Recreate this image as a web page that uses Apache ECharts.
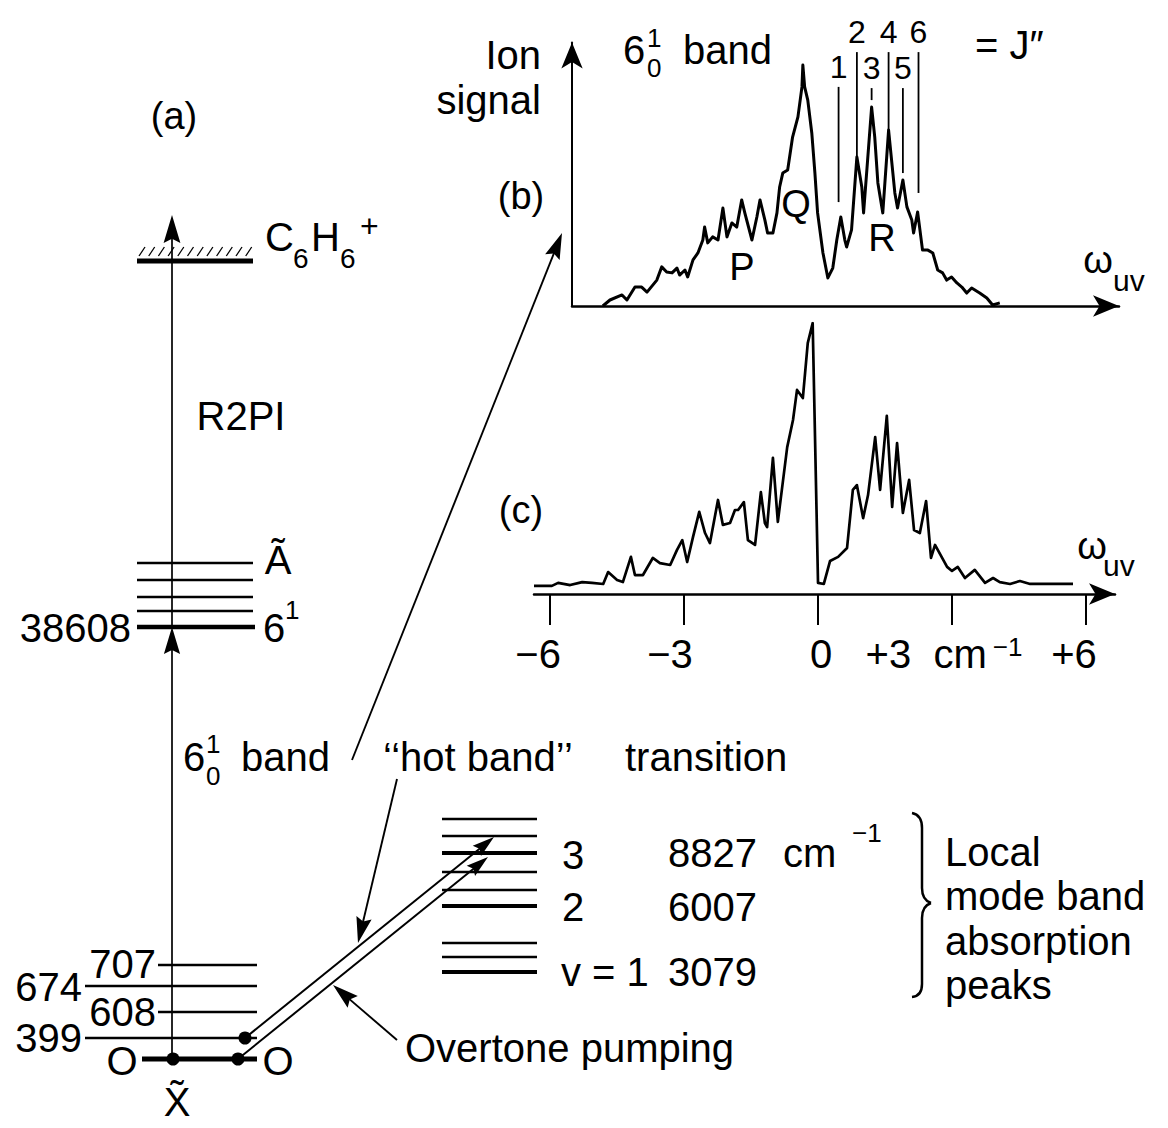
<!DOCTYPE html>
<html>
<head>
<meta charset="utf-8">
<script src="https://cdn.jsdelivr.net/npm/echarts@6/dist/echarts.min.js"></script>
<style>
html, body { margin: 0; padding: 0; background: #fff; }
#chart { width: 1168px; height: 1128px; }
</style>
</head>
<body>
<div id="chart"></div>
<script>
// (b) 6_0^1 band, ion signal; x in cm-1 from the Q branch, y arbitrary
const bX = [-4.59,-4.43,-4.16,-4.05,-3.87,-3.72,-3.60,-3.38,-3.27,-3.16,-3.04,-2.93,-2.87,-2.75,-2.69,-2.57,-2.46,-2.35,-2.31,-2.24,-2.13,-2.01,-1.90,-1.81,-1.70,-1.59,-1.48,-1.41,-1.25,-1.14,-1.07,-0.96,-0.90,-0.78,-0.69,-0.63,-0.56,-0.45,-0.34,-0.22,-0.13,-0.11,-0.07,0.00,0.09,0.16,0.22,0.34,0.45,0.56,0.65,0.74,0.83,0.87,0.98,1.10,1.21,1.25,1.34,1.43,1.50,1.57,1.68,1.81,1.95,2.01,2.13,2.22,2.33,2.37,2.46,2.57,2.69,2.80,2.91,3.02,3.11,3.22,3.34,3.45,3.56,3.67,3.85,4.01,4.14,4.30];
const bY = [0,2.5,4.6,2.5,7.9,7.9,5.8,10.8,16.3,14.2,13.8,15.8,12.9,15.0,12.1,19.2,22.1,27.5,32.9,26.3,28.8,27.5,40.8,28.8,34.6,32.9,44.2,38.8,27.5,37.1,44.2,35.8,30.4,30.4,38.8,49.6,55.4,56.7,70.4,78.8,91.3,100.4,91.3,85.8,72.1,55.4,38.8,22.1,11.7,15.8,27.5,37.1,27.5,24.6,31.7,62.1,49.6,38.8,60.8,82.9,70.4,51.3,38.8,73.3,47.1,40.8,52.5,41.3,35.8,30.4,39.2,23.3,23.3,22.1,15.0,13.8,10.8,12.1,9.6,7.9,5.4,7.5,5.4,3.3,0.4,1.3];

// R-branch markers, J'' = 1..6
const jNum = [1, 2, 3, 4, 5, 6];
const jX = [0.69, 1.10, 1.43, 1.81, 2.13, 2.48];
const jTop = [91.3, 105.8, 90.8, 105.8, 90.8, 105.8];
const jBottom = [43.3, 62.1, 85.8, 73.3, 55.4, 47.1];

// (c) hot band spectrum; x in cm-1
const cX = [-6.36,-5.96,-5.82,-5.55,-5.28,-5.06,-4.81,-4.70,-4.50,-4.37,-4.19,-4.10,-3.92,-3.70,-3.54,-3.31,-3.16,-3.04,-2.93,-2.80,-2.66,-2.53,-2.42,-2.24,-2.13,-1.97,-1.86,-1.79,-1.66,-1.57,-1.41,-1.28,-1.19,-1.14,-1.01,-0.90,-0.69,-0.56,-0.47,-0.34,-0.23,-0.12,0.00,0.13,0.27,0.45,0.65,0.78,0.87,1.01,1.12,1.28,1.39,1.54,1.66,1.77,1.90,2.04,2.15,2.28,2.42,2.53,2.62,2.89,3.00,3.13,3.29,3.51,3.74,3.92,4.07,4.30,4.52,4.75,5.13,5.71];
const cY = [3.0,3.0,4.1,3.3,4.4,4.1,3.7,8.1,5.2,4.4,13.7,7.0,7.0,13.3,11.4,10.7,16.2,19.9,11.8,21.0,30.3,22.5,18.8,34.7,25.5,26.2,31.0,31.0,33.9,19.9,18.1,37.6,26.2,24.7,50.2,26.6,54.2,64.2,75.3,72.3,92.6,100,4.1,3.7,12.2,13.7,17.0,38.4,40.2,28.0,36.5,57.9,38.4,65.7,32.1,55.7,29.9,42.1,23.6,22.5,34.3,13.3,18.1,10.0,8.5,10.0,5.9,8.9,4.1,5.9,4.4,3.7,4.8,3.7,3.7,3.7];
const cTicks = [-6, -3, 0, 3, 6];
const cTickLabels = ['{m|−6}', '{m3|−3}', '{z|0}', '{p3|+3  cm}{s|−1}', '{m|+6}'];

const FONT = '"Liberation Sans", Arial, Helvetica, sans-serif';

// energy level diagram, drawn on a page-sized hidden grid: [x1, y1, x2, y2, width, arrowhead]
const segments = [
  [137, 261, 253, 261, 5, 0],
  [137, 563, 253, 563, 2.5, 0], [137, 580, 253, 580, 2.5, 0], [137, 597, 253, 597, 2.5, 0],
  [137, 611, 253, 611, 2.5, 0], [137, 627, 255, 627, 4.5, 0],
  [158, 965, 257, 965, 2.5, 0], [85, 986, 257, 986, 2.5, 0], [158, 1012, 257, 1012, 2.5, 0],
  [85, 1038, 257, 1038, 2.5, 0], [142, 1059, 257, 1059, 5, 0],
  [442, 819, 537, 819, 2.5, 0], [442, 836, 537, 836, 2.5, 0], [442, 853, 537, 853, 4, 0],
  [442, 872, 537, 872, 2.5, 0], [442, 890, 537, 890, 2.5, 0], [442, 906, 537, 906, 4, 0],
  [442, 943, 537, 943, 2.5, 0], [442, 957, 537, 957, 2.5, 0], [442, 972, 537, 972, 4, 0],
  [172, 1059, 172, 627, 1.7, 27], [172, 627, 172, 215, 1.7, 28],
  [352, 760, 562, 233, 1.9, 26], [397, 779, 358, 943, 1.9, 26], [397, 1040, 333, 985, 1.9, 26],
  [245, 1038, 494, 837, 2, 22], [238, 1059, 488, 857, 2, 22]
];
// hatching above the ionisation limit
for (let i = 0; i < 12; i++) {
  const x = 139 + i * 9.7;
  segments.push([x, 256, x + 6, 247, 1.3, 0]);
}
const dots = [[173, 1059], [238, 1059], [245, 1038]];

const texts = [
  ['(a)', 174, 116, 38, 'center'],
  ['C', 265, 237, 40, 'left'], ['6', 293, 258, 28, 'left'], ['H', 311, 237, 40, 'left'],
  ['6', 340, 258, 28, 'left'], ['+', 360, 226, 32, 'left'],
  ['R2PI', 241, 416, 40, 'center'],
  ['Ã', 278, 560, 40, 'center'],
  ['6', 263, 628, 40, 'left'], ['1', 285, 610, 26, 'left'],
  ['38608', 131, 628, 40, 'right'],
  ['707', 156, 964, 40, 'right'], ['674', 82, 987, 40, 'right'],
  ['608', 156, 1012, 40, 'right'], ['399', 82, 1038, 40, 'right'],
  ['O', 122, 1061, 40, 'center'], ['O', 278, 1061, 40, 'center'],
  ['X̃', 177, 1102, 40, 'center'],
  ['6', 183, 757, 40, 'left'], ['1', 206, 744, 26, 'left'], ['0', 206, 776, 26, 'left'],
  ['band', 241, 757, 40, 'left'],
  ['‘‘hot band’’', 383, 757, 40, 'left'], ['transition', 625, 757, 40, 'left'],
  ['Overtone pumping', 405, 1048, 40, 'left'],
  ['3', 573, 855, 40, 'center'], ['2', 573, 907, 40, 'center'], ['v = 1', 561, 972, 40, 'left'],
  ['8827', 668, 853, 40, 'left'], ['cm', 783, 853, 40, 'left'], ['−1', 852, 833, 26, 'left'],
  ['6007', 668, 907, 40, 'left'], ['3079', 668, 972, 40, 'left'],
  ['Local', 945, 852, 40, 'left'], ['mode band', 945, 896, 40, 'left'],
  ['absorption', 945, 941, 40, 'left'], ['peaks', 945, 985, 40, 'left'],
  ['Ion', 541, 55, 40, 'right'], ['signal', 541, 100, 40, 'right'],
  ['(b)', 521, 196, 38, 'center'], ['(c)', 521, 510, 38, 'center'],
  ['6', 623, 50, 40, 'left'], ['1', 647, 38, 26, 'left'], ['0', 647, 68, 26, 'left'],
  ['band', 683, 50, 40, 'left'],
  ['= J″', 975, 45, 40, 'left'],
  ['ω', 1098, 260, 38, 'center'], ['uv', 1113, 280, 30, 'left'],
  ['ω', 1092, 546, 38, 'center'], ['uv', 1103, 565, 30, 'left'],
  ['P', 742, 267, 38, 'center'], ['Q', 796, 204, 38, 'center'], ['R', 882, 238, 38, 'center']
];

// curly brace next to the local mode levels: [x1, y1, x2, y2, cpx, cpy]
const brace = [
  [912, 813, 922, 828, 922, 815],
  [922, 828, 922, 888, 922, 858],
  [922, 888, 931, 903, 922, 900],
  [931, 903, 922, 918, 922, 906],
  [922, 918, 922, 984, 922, 951],
  [922, 984, 912, 997, 922, 996]
];

function renderSeg(params, api) {
  const a = api.coord([api.value(0), api.value(1)]);
  const b = api.coord([api.value(2), api.value(3)]);
  const w = api.value(4);
  const h = api.value(5);
  const children = [];
  let end = b;
  if (h > 0) {
    const dx = b[0] - a[0], dy = b[1] - a[1];
    const len = Math.hypot(dx, dy);
    const ux = dx / len, uy = dy / len;
    const bx = b[0] - ux * h, by = b[1] - uy * h, hw = h * 0.3;
    end = [b[0] - ux * h * 0.7, b[1] - uy * h * 0.7];
    children.push({
      type: 'polygon',
      shape: { points: [b, [bx - uy * hw, by + ux * hw], [b[0] - ux * h * 0.85, b[1] - uy * h * 0.85], [bx + uy * hw, by - ux * hw]] },
      style: { fill: '#000' }
    });
  }
  children.push({
    type: 'line',
    shape: { x1: a[0], y1: a[1], x2: end[0], y2: end[1] },
    style: { stroke: '#000', lineWidth: w, fill: null }
  });
  return { type: 'group', children: children };
}

const chart = echarts.init(document.getElementById('chart'), null, { renderer: 'svg' });

const hidden = { show: false };
const option = {
  animation: false,
  backgroundColor: '#fff',
  grid: [
    { left: 572, top: 42.5, width: 547, height: 263.5 },
    { left: 534, top: 323, width: 581, height: 271 },
    { left: 0, top: 0, width: 1168, height: 1128 }
  ],
  xAxis: [
    {
      gridIndex: 0, type: 'value', min: -5.28, max: 6.97,
      axisLine: { show: true, onZero: false, symbol: ['none', 'arrow'], symbolSize: [16, 26], lineStyle: { color: '#000', width: 2.5 } },
      axisTick: hidden, axisLabel: hidden, splitLine: hidden
    },
    {
      gridIndex: 1, type: 'value', min: -6.36, max: 6.65,
      axisLine: { show: true, onZero: false, symbol: ['none', 'arrow'], symbolSize: [16, 26], lineStyle: { color: '#000', width: 2.5 } },
      axisTick: { show: true, customValues: cTicks, length: 31, lineStyle: { color: '#000', width: 2 } },
      axisLabel: {
        show: true, customValues: cTicks, margin: 40, color: '#000',
        fontFamily: FONT, fontSize: 40,
        formatter: function (v) { return cTickLabels[cTicks.indexOf(Math.round(v))] || ''; },
        rich: {
          m: { fontSize: 40, fontFamily: FONT, color: '#000', padding: [0, 24, 0, 0] },
          m3: { fontSize: 40, fontFamily: FONT, color: '#000', padding: [0, 28, 0, 0] },
          z: { fontSize: 40, fontFamily: FONT, color: '#000', padding: [0, 0, 0, 6] },
          p3: { fontSize: 40, fontFamily: FONT, color: '#000', padding: [0, 0, 0, 0] },
          s: { fontSize: 26, fontFamily: FONT, color: '#000', verticalAlign: 'top', padding: [0, 16, 0, 6] }
        }
      },
      splitLine: hidden
    },
    { gridIndex: 2, type: 'value', min: 0, max: 1168, show: false }
  ],
  yAxis: [
    {
      gridIndex: 0, type: 'value', min: 0, max: 109.8,
      axisLine: { show: true, onZero: false, symbol: ['none', 'arrow'], symbolSize: [16, 26], lineStyle: { color: '#000', width: 2 } },
      axisTick: hidden, axisLabel: hidden, splitLine: hidden
    },
    { gridIndex: 1, type: 'value', min: 0, max: 100, show: false },
    { gridIndex: 2, type: 'value', min: 0, max: 1128, inverse: true, show: false }
  ],
  series: [
    {
      name: 'ion signal (b)', type: 'line', xAxisIndex: 0, yAxisIndex: 0,
      data: bX.map((x, i) => [x, bY[i]]),
      showSymbol: false, silent: true,
      lineStyle: { color: '#000', width: 3, join: 'round' }
    },
    {
      name: 'hot band (c)', type: 'line', xAxisIndex: 1, yAxisIndex: 1,
      data: cX.map((x, i) => [x, cY[i]]),
      showSymbol: false, silent: true,
      lineStyle: { color: '#000', width: 2.7, join: 'round' }
    },
    {
      name: 'J markers', type: 'custom', xAxisIndex: 0, yAxisIndex: 0, silent: true,
      renderItem: renderSeg,
      data: jX.map((x, i) => [x, jBottom[i], x, jTop[i], 1.8, 0])
    },
    {
      name: 'J labels', type: 'scatter', xAxisIndex: 0, yAxisIndex: 0, silent: true,
      symbolSize: 0, itemStyle: { color: '#000', opacity: 1 },
      data: jX.map((x, i) => [x, jTop[i]]),
      label: {
        show: true, position: 'top', distance: 4, color: '#000', opacity: 1,
        fontFamily: FONT, fontSize: 32,
        formatter: function (p) { return String(jNum[p.dataIndex]); }
      }
    },
    {
      name: 'diagram', type: 'custom', xAxisIndex: 2, yAxisIndex: 2, silent: true,
      renderItem: renderSeg,
      data: segments
    },
    {
      name: 'dots', type: 'scatter', xAxisIndex: 2, yAxisIndex: 2, silent: true,
      symbolSize: 13, itemStyle: { color: '#000', opacity: 1 },
      data: dots
    }
  ],
  graphic: texts.map(function (t) {
    return {
      type: 'text', x: t[1], y: t[2], silent: true,
      style: {
        text: t[0], fontSize: t[3], fontFamily: FONT, fill: '#000',
        align: t[4], textAlign: t[4], verticalAlign: 'middle', textVerticalAlign: 'middle'
      }
    };
  }).concat(brace.map(function (s) {
    return {
      type: 'bezierCurve', silent: true,
      shape: { x1: s[0], y1: s[1], x2: s[2], y2: s[3], cpx1: s[4], cpy1: s[5] },
      style: { stroke: '#000', lineWidth: 2.5, fill: null }
    };
  }))
};

chart.setOption(option);
</script>
</body>
</html>
